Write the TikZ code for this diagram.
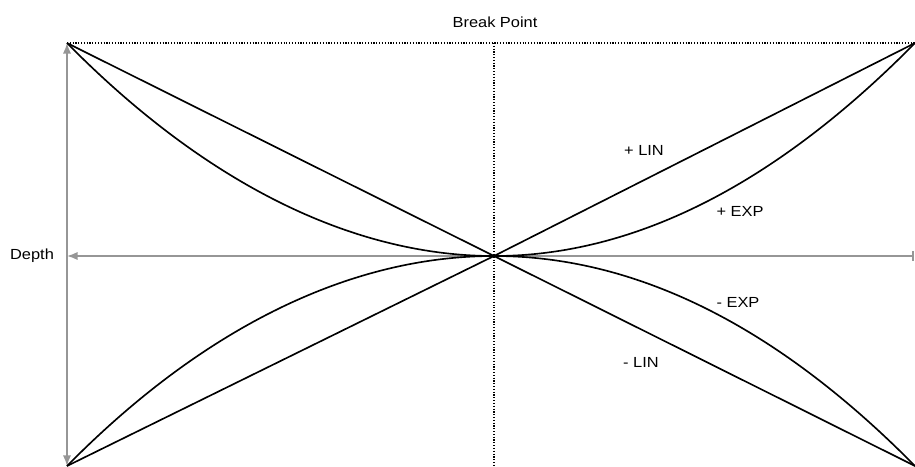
\documentclass[tikz,border=0pt]{standalone}
\usepackage{fontspec}
\setmainfont{Liberation Sans}
\newfontfamily\lblfont[FakeStretch=1.12]{Liberation Sans}
\usetikzlibrary{arrows.meta}
\definecolor{axisgray}{RGB}{150, 150, 150}

\begin{document}
\begin{tikzpicture}[x=0.03cm, y=-0.03cm, line width=1.5pt,
    curve/.style={black, line width=1.4pt},
    axis/.style={axisgray, line width=1.4pt},
    guide/.style={black, line width=1.3pt, dash pattern=on 1pt off 1.4pt},
    lbl/.style={font=\lblfont\fontsize{12.5}{14}\selectfont, inner sep=0pt}]
    % Dimensions (pixels, y downwards)
    \def\W{140}   % a third of the half-width
    \def\H{71}    % a third of the half-height
    \useasboundingbox (0,0) rectangle (915,466);

    % 1. Coordinates
    \coordinate (C) at (494,256);    % centre
    \coordinate (TL) at (67,43);     % top left
    \coordinate (TR) at (915,43);    % top right
    \coordinate (BL) at (67,466);    % bottom left
    \coordinate (BR) at (915,466);   % bottom right
    \coordinate (TM) at (494,43);    % break point top
    \coordinate (BM) at (494,466);   % break point bottom
    \coordinate (AR) at (914,256);   % depth axis right end
    \coordinate (AL) at (67,256);    % depth axis left end

    % 2. Guides
    \draw[guide] (TL) -- (TR);
    \draw[guide] (TM) -- (BM);

    % 3. Axes
    \draw[axis, {Latex[length=9pt, width=7pt]}-{Latex[length=9pt, width=7pt]}] (BL) -- (TL);
    \draw[axis, {Latex[length=9pt, width=7pt]}-{Bar[width=8pt]}] (AL) -- (AR);

    % 4. Linear slopes
    \draw[curve] (TL) -- (C) -- (BR);
    \draw[curve] (BL) -- (C) -- (TR);

    % 5. Exponential slopes
    \draw[curve] (C) .. controls +(\W,0) and +(-\W,2*\H) .. (TR);
    \draw[curve] (C) .. controls +(\W,0) and +(-\W,-2*\H) .. (BR);
    \draw[curve] (C) .. controls +(-\W,0) and +(\W,2*\H) .. (TL);
    \draw[curve] (C) .. controls +(-\W,0) and +(\W,-2*\H) .. (BL);

    % 6. Labels
    \node[lbl] (brk) at (495,22) {Break Point};
    \node[lbl] (dep) at (32,256) {Depth};
    \node[lbl] (plin) at (644,150) {+ LIN};
    \node[lbl] (pexp) at (740,211) {+ EXP};
    \node[lbl] (mexp) at (738,302) {- EXP};
    \node[lbl] (mlin) at (641,362) {- LIN};

\end{tikzpicture}
\end{document}
